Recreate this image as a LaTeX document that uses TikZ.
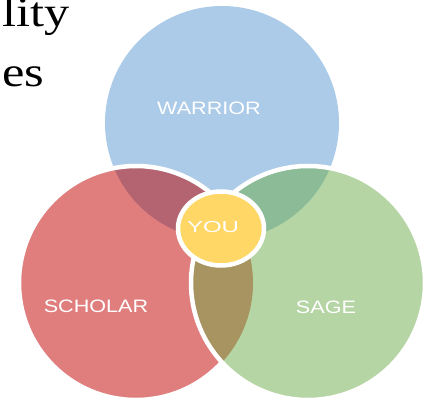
\documentclass[tikz,border=0pt]{standalone}
\usepackage{fontspec}
\setmainfont{Liberation Serif}
\newfontfamily\labelfont{Liberation Sans}
\definecolor{warriorblue}{HTML}{ACCBE8}
\definecolor{scholarred}{HTML}{E07E7E}
\definecolor{sagegreen}{HTML}{B5D5A4}
\definecolor{redblue}{HTML}{B36470}
\definecolor{greenblue}{HTML}{8CBB98}
\definecolor{redgreen}{HTML}{A89461}
\definecolor{youyellow}{HTML}{FED766}
\begin{document}
\begin{tikzpicture}[x=1pt,y=-1pt,
  setlabel/.style={text=white,inner sep=0pt,font=\labelfont\fontsize{18}{18}\selectfont,xscale=1.2},
  rim/.style={draw=white,line width=4.5pt},
  titletext/.style={anchor=base west,inner sep=0pt,font=\fontsize{42}{44}\selectfont,xscale=1.2}]
\useasboundingbox (0,0) rectangle (438,403);
\clip (0,0) rectangle (438,403);
\def\R{117pt}
\coordinate (cW) at (222,123);
\coordinate (cS) at (136,283);
\coordinate (cG) at (308,283);
\coordinate (cY) at (221,228.5);
% the three sets
\fill[warriorblue] (cW) circle (\R);
\fill[scholarred] (cS) circle (\R);
\fill[sagegreen] (cG) circle (\R);
% pairwise overlaps
\begin{scope}
  \clip (cS) circle (\R);
  \fill[redblue] (cW) circle (\R);
  \fill[redgreen] (cG) circle (\R);
\end{scope}
\begin{scope}
  \clip (cG) circle (\R);
  \fill[greenblue] (cW) circle (\R);
\end{scope}
% white rims: the scholar rim runs beneath the sage set
\begin{scope}[even odd rule]
  \clip (-10,-10) rectangle (450,420) (cG) circle (\R);
  \draw[rim] (cS) circle (\R);
\end{scope}
\draw[rim] (cG) circle (\R);
% centre
\draw[rim,fill=youyellow] (cY) ellipse (43pt and 37pt);
% labels
\node[setlabel] (warrior) at (209,108) {WARRIOR};
\node[setlabel] (scholar) at (96,306) {SCHOLAR};
\node[setlabel] (sage) at (326,307) {SAGE};
\node[setlabel,font=\labelfont\fontsize{16}{16}\selectfont,xscale=1.25] (you) at (213,227) {YOU};
% title fragments
\node[titletext] (title1) at (2,27) {lity};
\node[titletext] (title2) at (2,87) {es};
\end{tikzpicture}
\end{document}
